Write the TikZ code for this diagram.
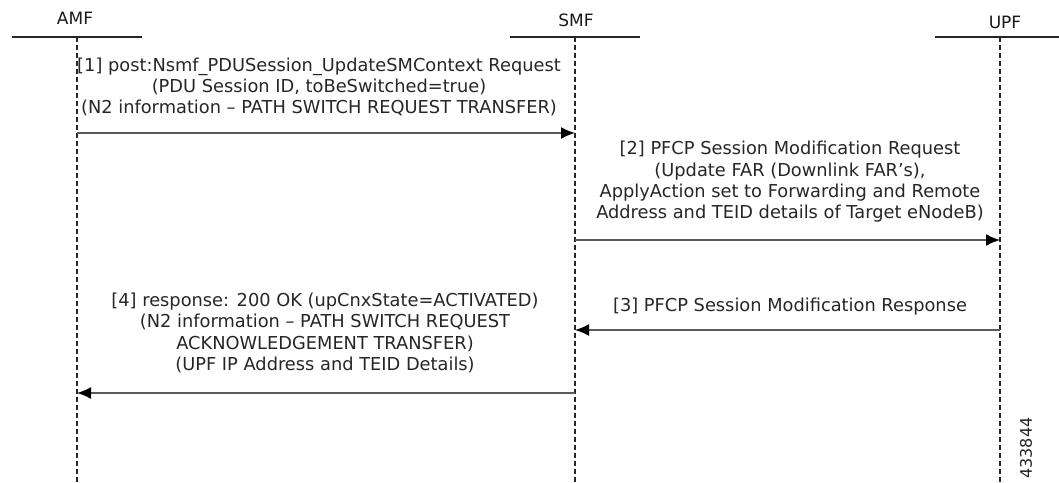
\documentclass[tikz,border=0pt]{standalone}
\usepackage{fontspec}
\setmainfont{DejaVu Sans}
\usetikzlibrary{arrows.meta}
\begin{document}
\begin{tikzpicture}[x=1pt,y=-1pt,
  lbl/.style={font=\fontsize{17}{20}\selectfont, inner sep=0pt, text=black!90},
  msg/.style={font=\fontsize{17.8}{21.3}\selectfont, align=center, inner sep=0pt, text=black!85},
  head/.style={line width=1.2pt, draw=black!85},
  life/.style={line width=1.3pt, draw=black!85, dash pattern=on 5pt off 3pt},
  arr/.style={line width=1.5pt, draw=black!65, -{Latex[length=14pt,width=12pt,fill=black,color=black]}}]
\useasboundingbox (0,0) rectangle (1059,482);
% participants
\node[lbl] (amf) at (75,18) {AMF};
\node[lbl] (smf) at (576,20) {SMF};
\node[lbl] (upf) at (1005,22) {UPF};
\draw[head] (12,37) -- (142,37);
\draw[head] (510,37) -- (640,37);
\draw[head] (935,37) -- (1059,37);
\coordinate (amfTop) at (77,37);
\coordinate (amfBot) at (77,482);
\coordinate (smfTop) at (575,37);
\coordinate (smfBot) at (575,482);
\coordinate (upfTop) at (1000,37);
\coordinate (upfBot) at (1000,482);
\draw[life] (amfTop) -- (amfBot);
\draw[life] (smfTop) -- (smfBot);
\draw[life] (upfTop) -- (upfBot);
% message 1
\node[msg] (m1) at (319,87) {[1] post:Nsmf\_PDUSession\_UpdateSMContext Request\\(PDU Session ID, toBeSwitched=true)\\(N2 information -- PATH SWITCH REQUEST TRANSFER)};
\coordinate (a1) at (77,133);
\coordinate (s1) at (575,133);
\draw[arr] (a1) -- (s1);
% message 2
\node[msg] (m2) at (790,182) {[2] PFCP Session Modification Request\\(Update FAR (Downlink FAR’s),\\ApplyAction set to Forwarding and Remote\\Address and TEID details of Target eNodeB)};
\coordinate (s2) at (575,240);
\coordinate (u2) at (1000,240);
\draw[arr] (s2) -- (u2);
% message 3
\node[msg] (m3) at (790,307) {[3] PFCP Session Modification Response};
\coordinate (u3) at (1000,330);
\coordinate (s3) at (575,330);
\draw[arr] (u3) -- (s3);
% message 4
\node[msg] (m4) at (325,333) {[4] response: 200 OK (upCnxState=ACTIVATED)\\(N2 information -- PATH SWITCH REQUEST\\ACKNOWLEDGEMENT TRANSFER)\\(UPF IP Address and TEID Details)};
\coordinate (s4) at (575,393);
\coordinate (a4) at (77,393);
\draw[arr] (s4) -- (a4);
% figure number
\node[font=\fontsize{16}{18}\selectfont, rotate=90, inner sep=0pt, text=black!85] (fig) at (1026,448) {433844};
\end{tikzpicture}
\end{document}
